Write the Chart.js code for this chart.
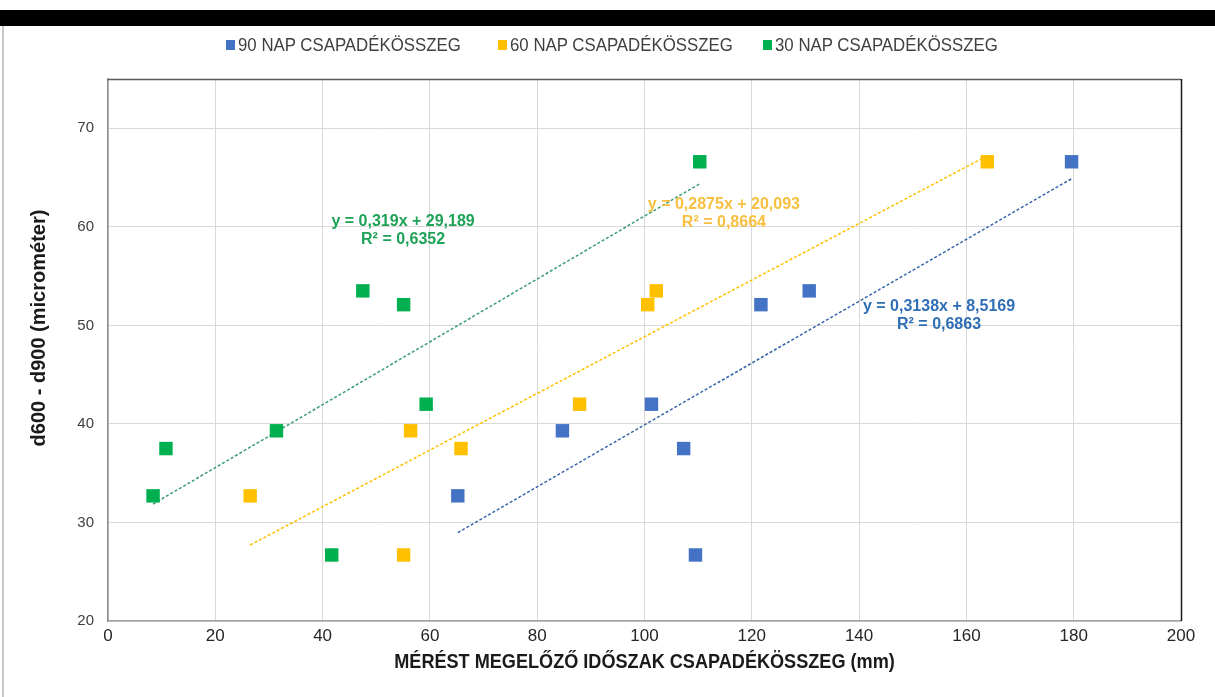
<!DOCTYPE html>
<html>
<head>
<meta charset="utf-8">
<script src="https://cdn.jsdelivr.net/npm/chart.js@4.4.0/dist/chart.umd.min.js"></script>
<style>
  html, body { margin: 0; padding: 0; background: #fff; }
  #topbar { position: absolute; left: 0; top: 10px; width: 1215px; height: 16px; background: #000; }
  #leftline { position: absolute; left: 2px; top: 26px; width: 2px; height: 671px; background: #c8c8c8; }
  #wrap { position: absolute; left: 0; top: 0; width: 1215px; height: 697px; }
  #legend { position: absolute; left: 0; top: 34px; width: 1215px; height: 24px; font-family: 'Liberation Sans', Arial, sans-serif; font-size: 19px; color: #404040; }
  #legend .item { position: absolute; top: 0; display: flex; align-items: center; white-space: nowrap; }
  #legend .box { width: 9px; height: 10px; margin-right: 3px; }
  #legend .txt { display: inline-block; transform: scaleX(0.885); transform-origin: left center; }
</style>
</head>
<body>
<div id="topbar"></div>
<div id="leftline"></div>
<div id="wrap"><canvas id="chart" width="1215" height="697"></canvas></div>
<div id="legend"></div>
<script>
// one row per measurement: d600 - d900 value and the rain sums before it
const seriesNames = ['90 NAP CSAPADÉKÖSSZEG', '60 NAP CSAPADÉKÖSSZEG', '30 NAP CSAPADÉKÖSSZEG'];
const seriesColors = ['#4472C4', '#FFC000', '#00B050'];
const dDiff = [32.7, 37.5, 39.3, 26.7, 53.5, 52.1, 42.0, 66.6];
const rain90 = [65.2, 107.3, 84.7, 109.5, 130.7, 121.7, 101.3, 179.6];
const rain60 = [26.5, 65.8, 56.4, 55.1, 102.2, 100.6, 87.9, 163.9];
const rain30 = [8.4, 10.8, 31.4, 41.7, 47.5, 55.1, 59.3, 110.3];

// linear trendlines as printed on the chart
const trendSlopes = [0.3138, 0.2875, 0.319];
const trendIntercepts = [8.5169, 20.093, 29.189];
const trendLabels = [
    ['y = 0,3138x + 8,5169', 'R² = 0,6863'],
    ['y = 0,2875x + 20,093', 'R² = 0,8664'],
    ['y = 0,319x + 29,189', 'R² = 0,6352']
];
const trendLineColors = ['#3565A8', '#FFC000', '#3C9C72'];
const trendTextColors = ['#2F6EB5', '#F7C040', '#1EA257'];
const labelAnchors = [{ x: 154.9, y: 51.9 }, { x: 114.8, y: 62.3 }, { x: 55.0, y: 60.5 }];
const legendLeft = [226, 498, 763];

const xTitle = 'MÉRÉST MEGELŐZŐ IDŐSZAK CSAPADÉKÖSSZEG (mm)';
const yTitle = 'd600 - d900 (microméter)';

const rainSeries = [rain90, rain60, rain30];

const pointSets = rainSeries.map((xs, i) => ({
    label: seriesNames[i],
    data: xs.map((x, j) => ({ x: x, y: dDiff[j] })),
    backgroundColor: seriesColors[i],
    borderWidth: 0,
    pointStyle: 'rect',
    pointRadius: 9.5,
    pointHoverRadius: 9.5,
    showLine: false,
    order: 1
}));

const trendSets = rainSeries.map((xs, i) => {
    const lo = Math.min(...xs), hi = Math.max(...xs);
    return {
        label: 'trend ' + i,
        data: [lo, hi].map(x => ({ x: x, y: trendSlopes[i] * x + trendIntercepts[i] })),
        borderColor: trendLineColors[i],
        borderWidth: 1.5,
        borderDash: [3, 2],
        pointRadius: 0,
        showLine: true,
        fill: false,
        order: 2
    };
});

// html legend built from the series
const legendEl = document.getElementById('legend');
seriesNames.forEach((name, i) => {
    const item = document.createElement('div');
    item.className = 'item';
    item.style.left = legendLeft[i] + 'px';
    item.innerHTML = '<span class="box" style="background:' + seriesColors[i] + '"></span><span class="txt">' + name + '</span>';
    legendEl.appendChild(item);
});

const extras = {
    id: 'extras',
    afterDraw(chart) {
        const { ctx, chartArea: a, scales } = chart;
        ctx.save();
        // top and right frame of the plot
        ctx.lineWidth = 1.5;
        ctx.strokeStyle = '#5a5a5a';
        ctx.beginPath();
        ctx.moveTo(a.left, a.top + 0.5);
        ctx.lineTo(a.right, a.top + 0.5);
        ctx.stroke();
        ctx.strokeStyle = '#1a1a1a';
        ctx.beginPath();
        ctx.moveTo(a.right + 0.5, a.top);
        ctx.lineTo(a.right + 0.5, a.bottom);
        ctx.stroke();

        // trendline equations
        ctx.font = 'bold 16px "Liberation Sans", Arial, sans-serif';
        ctx.textAlign = 'center';
        ctx.textBaseline = 'middle';
        trendLabels.forEach((lines, i) => {
            const px = scales.x.getPixelForValue(labelAnchors[i].x);
            const py = scales.y.getPixelForValue(labelAnchors[i].y);
            ctx.fillStyle = trendTextColors[i];
            lines.forEach((t, k) => ctx.fillText(t, px, py + k * 18));
        });

        // x axis title, condensed like the original narrow face
        ctx.save();
        ctx.translate((a.left + a.right) / 2, 662);
        ctx.scale(0.862, 1);
        ctx.font = 'bold 21px "Liberation Sans", Arial, sans-serif';
        ctx.fillStyle = '#1a1a1a';
        ctx.fillText(xTitle, 0, 0);
        ctx.restore();

        // y axis title
        ctx.translate(39, 328);
        ctx.rotate(-Math.PI / 2);
        ctx.font = 'bold 20px "Liberation Sans", Arial, sans-serif';
        ctx.fillStyle = '#1a1a1a';
        ctx.fillText(yTitle, 0, 0);
        ctx.restore();
    }
};

new Chart(document.getElementById('chart'), {
    type: 'scatter',
    data: { datasets: [...trendSets, ...pointSets] },
    options: {
        responsive: false,
        animation: false,
        layout: { padding: { top: 79, right: 34, left: 0, bottom: 0 } },
        plugins: {
            legend: { display: false },
            tooltip: { enabled: false }
        },
        scales: {
            x: {
                type: 'linear',
                min: 0,
                max: 200,
                afterFit: s => { s.height = 76; },
                ticks: {
                    stepSize: 20,
                    padding: 5,
                    color: '#262626',
                    font: { family: '"Liberation Sans", Arial', size: 17 }
                },
                grid: { color: '#d9d9d9', drawTicks: false },
                border: { color: '#a0a0a0', width: 1.5 }
            },
            y: {
                type: 'linear',
                min: 20,
                max: 75,
                afterFit: s => { s.width = 108; },
                ticks: {
                    stepSize: 10,
                    includeBounds: false,
                    padding: 14,
                    color: '#404040',
                    font: { family: '"Liberation Sans", Arial', size: 15 }
                },
                grid: { color: '#d9d9d9', drawTicks: false },
                border: { color: '#8c8c8c', width: 1.5 }
            }
        }
    },
    plugins: [extras]
});
</script>
</body>
</html>
